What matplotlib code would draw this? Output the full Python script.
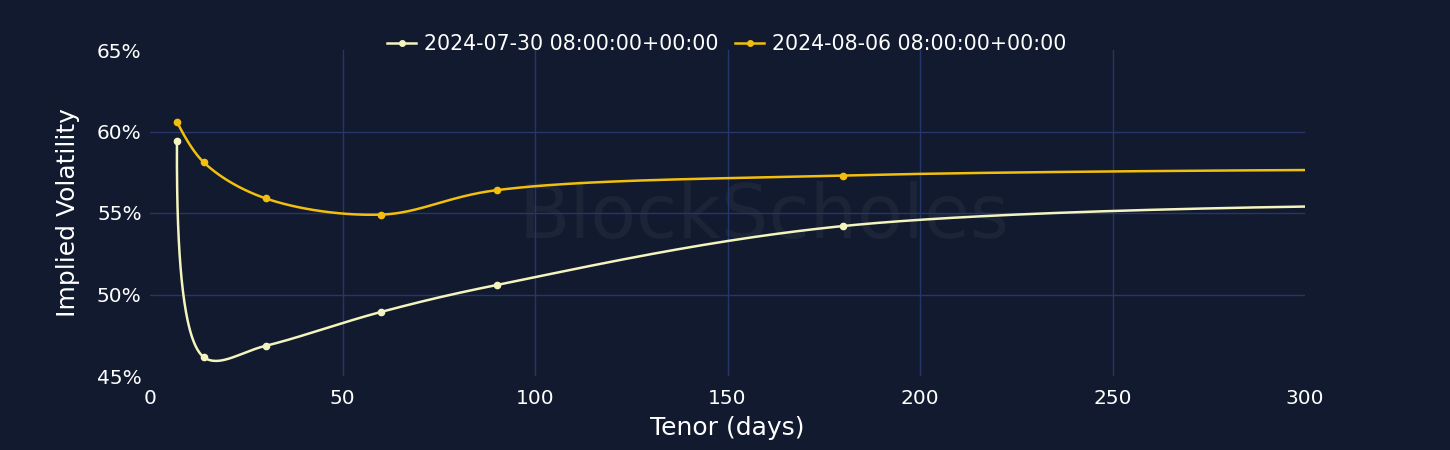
import numpy as np
import matplotlib
matplotlib.use("Agg")
import matplotlib.pyplot as plt
from matplotlib.ticker import FuncFormatter

# tenors in days, implied vol in %
tenors = [7, 14, 30, 60, 90, 180, 365]
iv_0730 = [59.4, 46.15, 46.85, 48.93, 50.58, 54.2, 55.55]
iv_0806 = [60.6, 58.1, 55.9, 54.9, 56.4, 57.3, 57.7]
labels = ["2024-07-30 08:00:00+00:00", "2024-08-06 08:00:00+00:00"]
colors = ["#f3f4be", "#f2bf0f"]

BG = "#111a2e"
GRID = "#26366a"


def tangent(p0, p1, p2, s=1.0):
    # plotly style catmull-rom tangent (pixel space)
    d1 = p0 - p1
    d2 = p2 - p1
    d1a = np.hypot(*d1) ** 0.5
    d2a = np.hypot(*d2) ** 0.5
    num = (d2a * d2a * d1 - d1a * d1a * d2) * s
    den1 = 3 * d2a * (d1a + d2a)
    den2 = 3 * d1a * (d1a + d2a)
    return p1 + num / den1, p1 - num / den2


def spline(ax, xs, ys, n=60):
    pts = ax.transData.transform(np.column_stack([xs, ys]))
    tans = [tangent(pts[i - 1], pts[i], pts[i + 1]) for i in range(1, len(pts) - 1)]
    t = np.linspace(0, 1, n)[:, None]
    out = []
    # first quadratic segment
    c = tans[0][0]
    out.append((1 - t) ** 2 * pts[0] + 2 * (1 - t) * t * c + t ** 2 * pts[1])
    for i in range(2, len(pts) - 1):
        a, b = tans[i - 2][1], tans[i - 1][0]
        p0, p3 = pts[i - 1], pts[i]
        out.append((1 - t) ** 3 * p0 + 3 * (1 - t) ** 2 * t * a + 3 * (1 - t) * t ** 2 * b + t ** 3 * p3)
    c = tans[-1][1]
    out.append((1 - t) ** 2 * pts[-2] + 2 * (1 - t) * t * c + t ** 2 * pts[-1])
    curve = np.vstack(out)
    data = ax.transData.inverted().transform(curve)
    return data[:, 0], data[:, 1]


fig = plt.figure(figsize=(14.5, 4.5), dpi=100, facecolor=BG)
ax = fig.add_axes([150 / 1450, 74 / 450, 1155 / 1450, 326 / 450])
ax.set_facecolor(BG)
ax.set_xlim(0, 300)
ax.set_ylim(45, 65)

for sp in ax.spines.values():
    sp.set_visible(False)
ax.set_xticks([0, 50, 100, 150, 200, 250, 300])
ax.set_yticks([45, 50, 55, 60, 65])
ax.yaxis.set_major_formatter(FuncFormatter(lambda v, p: "%d%%" % v))
ax.tick_params(colors="white", labelsize=14.5, length=0)
ax.tick_params(axis="y", pad=6)
ax.tick_params(axis="x", pad=9)
for v in [50, 100, 150, 200, 250]:
    ax.axvline(v, color=GRID, lw=1, zorder=1)
for v in [50, 55, 60]:
    ax.axhline(v, color=GRID, lw=1, zorder=1)

ax.set_xlabel("Tenor (days)", color="white", fontsize=18, labelpad=6)
ax.set_ylabel("Implied Volatility", color="white", fontsize=18, labelpad=12)

# watermark
ax.text(0.532, 0.485, "BlockScholes", transform=ax.transAxes, ha="center", va="center",
        fontsize=54, color="#1b2537", zorder=0)

handles = []
for ys, lab, col in zip([iv_0730, iv_0806], labels, colors):
    sx, sy = spline(ax, tenors, ys)
    ax.plot(sx, sy, color=col, lw=1.8, zorder=3)
    ax.plot(tenors, ys, "o", color=col, ms=4.5, zorder=4, clip_on=True)
    h, = ax.plot([], [], color=col, lw=1.8, marker="o", ms=4)
    handles.append(h)

leg = fig.legend(handles, labels, loc="center", bbox_to_anchor=(727 / 1450, 1 - 44 / 450),
                 ncol=2, frameon=False, fontsize=14.8, labelcolor="white",
                 handlelength=1.4, handletextpad=0.4, columnspacing=0.8)

fig.savefig("out.png", dpi=100, facecolor=BG)
